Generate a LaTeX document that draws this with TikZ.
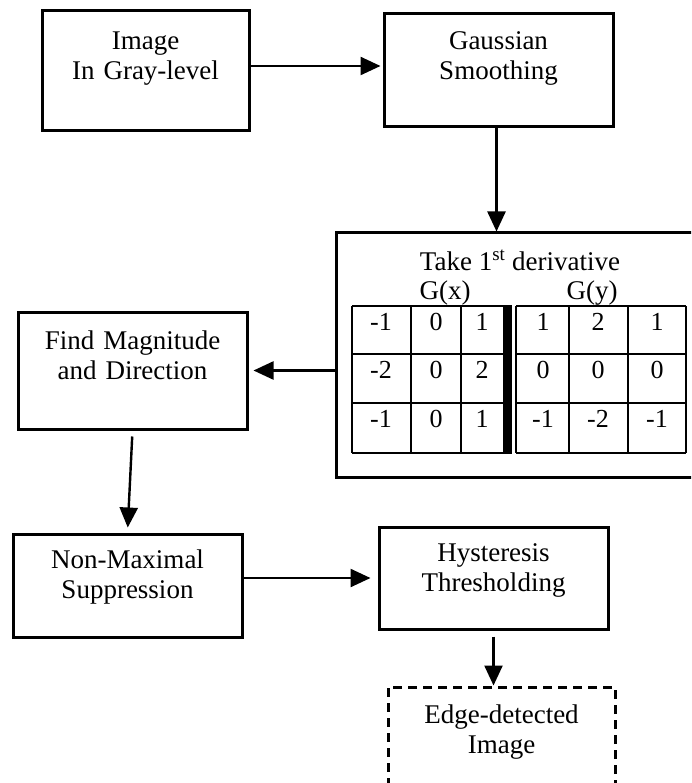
\documentclass[tikz,border=0pt]{standalone}
\usepackage{fontspec}
\setmainfont{Liberation Serif}
\usetikzlibrary{arrows.meta}
\usetikzlibrary{positioning}

\begin{document}
\begin{tikzpicture}[x=1pt, y=-1pt,
  every node/.style={font=\fontsize{27}{30}\selectfont},
  box/.style={draw, line width=3pt, minimum width=229pt, minimum height=117pt,
    inner sep=0pt, text width=190pt, align=center, text height=20pt, text depth=62pt},
  arr/.style={line width=2.4pt, -{Triangle[length=20pt,width=18pt]}},
  grid/.style={line width=2pt},
  cell/.style={anchor=base, inner sep=0pt, font=\fontsize{26}{30}\selectfont}]
  \useasboundingbox (0,0) rectangle (691,783);
  \clip (0,0) rectangle (691,783);

  % processing steps
  \node[box, minimum width=207pt, minimum height=120pt] (img) at (145.5,71) {Image\\In Gray-level};
  \node[box, minimum height=113pt] (gauss) at (498.5,70.5) {Gaussian\\Smoothing};
  \node[draw, line width=3pt, minimum width=370pt, minimum height=244pt] (deriv) at (521,355) {};
  \node[box] (mag) at (132.5,370.5) {Find Magnitude\\and Direction};
  \node[box, minimum height=103pt, text depth=54pt] (nms) at (127.5,585.5) {Non-Maximal\\Suppression};
  \node[box, minimum height=102pt, text depth=54pt] (hyst) at (493.5,578) {Hysteresis\\Thresholding};
  \node[box, dashed, dash pattern=on 9pt off 6pt, minimum width=227pt, minimum height=115pt] (edge) at (501.5,744.5) {Edge-detected\\Image};

  % derivative masks
  \node[anchor=base] (take) at (520,270) {Take 1\textsuperscript{st} derivative};
  \node[anchor=base] (gx) at (445,299) {G(x)};
  \node[anchor=base] (gy) at (592,299) {G(y)};
  \foreach \y in {306,354,403,453} {
    \draw[grid] (352,\y) -- (503,\y);
    \draw[grid] (516,\y) -- (686,\y);
  }
  \foreach \x in {352,411,461,516,569,628,686}
    \draw[grid] (\x,306) -- (\x,453);
  \fill (503,305) rectangle (512,454);
  \foreach \v/\x [count=\c] in {-1/381,0/436,1/482,1/543,2/598,1/657}
    \node[cell] (a\c) at (\x,330) {\v};
  \foreach \v/\x [count=\c] in {-2/381,0/436,2/482,0/543,0/598,0/657}
    \node[cell] (b\c) at (\x,378) {\v};
  \foreach \v/\x [count=\c] in {-1/381,0/436,1/482,-1/543,-2/598,-1/657}
    \node[cell] (d\c) at (\x,427) {\v};

  % connectors
  \draw[arr, shorten >=2pt] ([yshift=5pt]img.east) -- ([yshift=5pt]img.east -| gauss.west);
  \draw[arr] ([xshift=-2pt]gauss.south) -- ([xshift=-2pt]gauss.south |- deriv.north);
  \draw[arr, shorten >=5pt] (deriv.west |- mag.east) -- (mag.east);
  \draw[arr, shorten <=6pt, shorten >=5pt] (mag.south) -- (nms.north);
  \draw[arr, shorten >=7pt] (nms.east |- hyst.west) -- (hyst.west);
  \draw[arr, shorten <=6pt] (hyst.south) -- (hyst.south |- edge.north);
\end{tikzpicture}
\end{document}
